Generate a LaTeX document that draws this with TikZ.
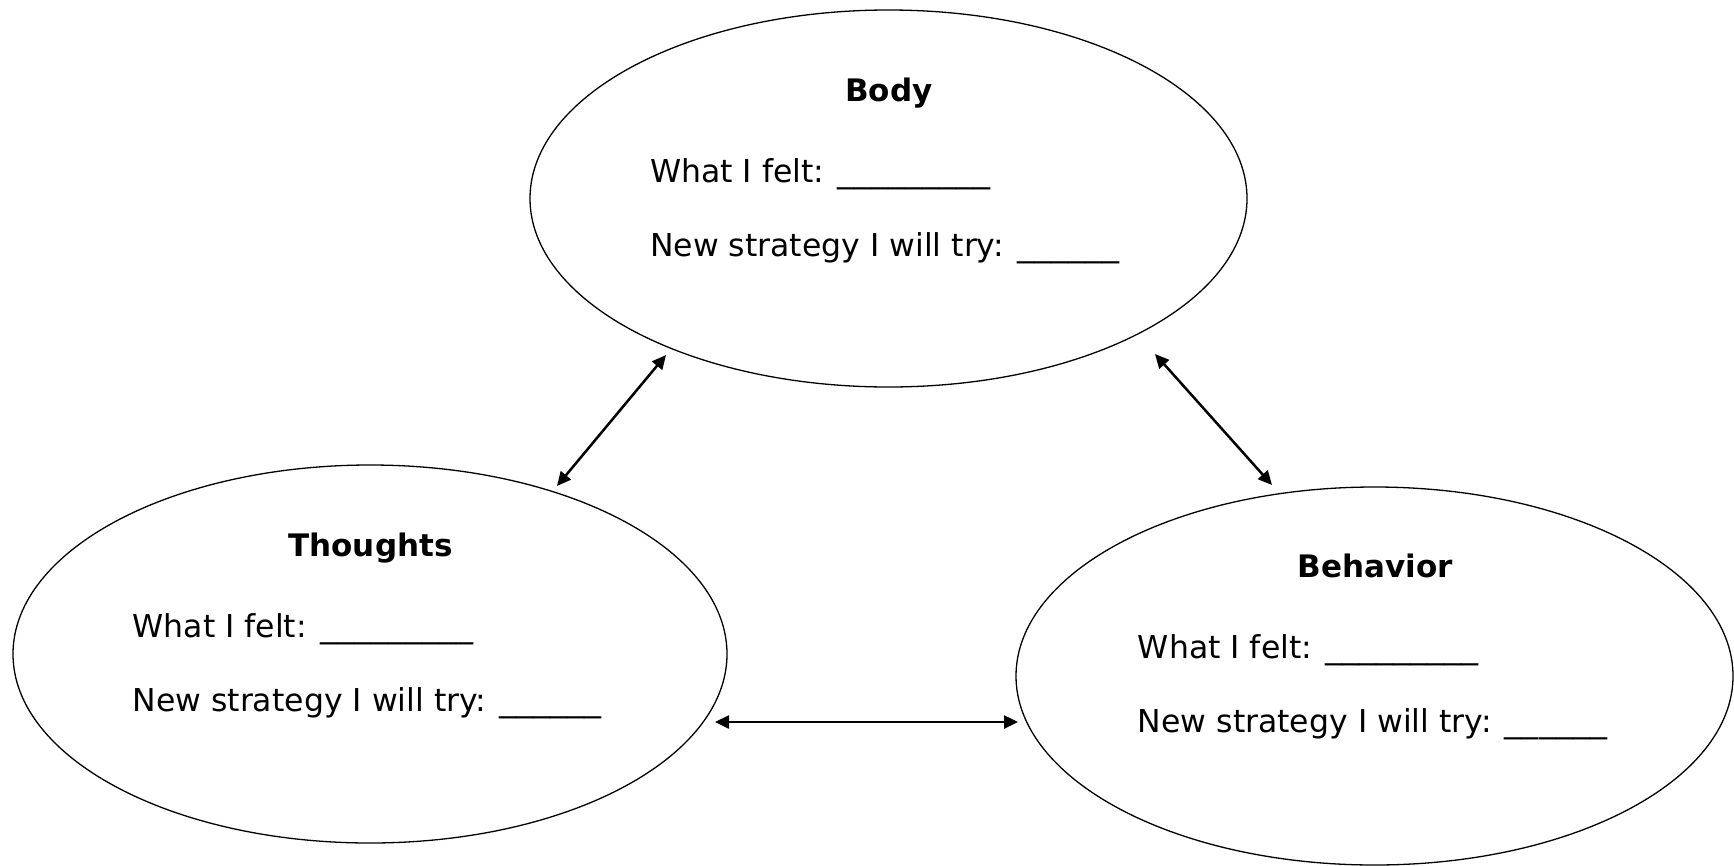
\documentclass[tikz,border=0pt]{standalone}
\usepackage{fontspec}
\usepackage{graphicx}
\setmainfont{DejaVu Sans}
\usetikzlibrary{shapes.geometric,arrows.meta}
\newcommand{\blankline}[1]{\scalebox{1.08}[1]{#1}}
\begin{document}
\begin{tikzpicture}[x=1pt,y=-1pt,
  oval/.style={draw, line width=1.3pt, ellipse, inner sep=0pt, outer sep=0pt},
  title/.style={font=\fontsize{31}{37}\selectfont\bfseries, anchor=base, inner sep=0pt},
  line/.style={font=\fontsize{31.5}{37}\selectfont, anchor=base west, inner sep=0pt},
  link/.style={line width=2.5pt, {Triangle[length=14pt,width=13pt]}-{Triangle[length=14pt,width=13pt]}}]
\useasboundingbox (0,0) rectangle (1734,865);
\node[oval, minimum width=717pt, minimum height=377pt] (body) at (888.5,198.5) {};
\node[oval, minimum width=714pt, minimum height=378pt] (th) at (370,654) {};
\node[oval, minimum width=717pt, minimum height=378pt] (be) at (1374.5,676) {};
% Body texts
\node[title] (bodyt) at (889,101.7) {Body};
\node[line] (bodyf) at (650,182.7) {What I felt: \blankline{\_\_\_\_\_\_\_\_\_}};
\node[line] (bodys) at (650,256.7) {New strategy I will try: \blankline{\_\_\_\_\_\_}};
% Thoughts texts
\node[title] (tht) at (370.5,556.2) {Thoughts};
\node[line] (thf) at (132.4,637.2) {What I felt: \blankline{\_\_\_\_\_\_\_\_\_}};
\node[line] (ths) at (132.4,711.2) {New strategy I will try: \blankline{\_\_\_\_\_\_}};
% Behavior texts
\node[title] (bet) at (1375.5,577.7) {Behavior};
\node[line] (bef) at (1137.7,658.7) {What I felt: \blankline{\_\_\_\_\_\_\_\_\_}};
\node[line] (bes) at (1137.7,732.7) {New strategy I will try: \blankline{\_\_\_\_\_\_}};
% connectors
\draw[link] ([shift={(-222.5,156.5)}]body.center) -- ([shift={(187,-168)}]th.center);
\draw[link] ([shift={(266.5,155.5)}]body.center) -- ([shift={(-102.5,-191)}]be.center);
\draw[link] ([shift={(345,68)}]th.center) -- ([shift={(-356.5,46)}]be.center);
\end{tikzpicture}
\end{document}
